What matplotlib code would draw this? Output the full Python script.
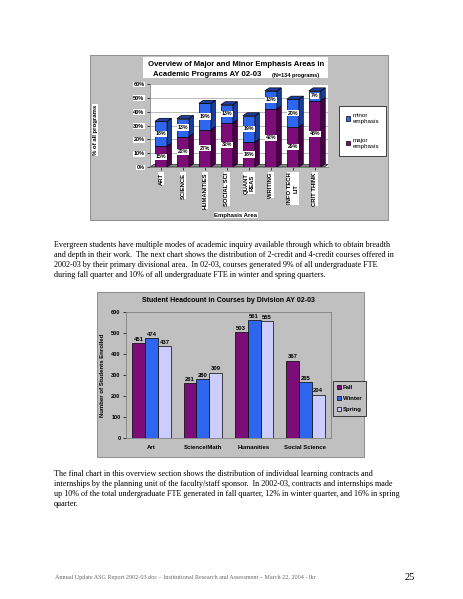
import matplotlib.pyplot as plt
import numpy as np
from matplotlib.patches import Polygon, Rectangle, Patch

# top chart data
areas = ["ART", "SCIENCE", "HUMANITIES", "SOCIAL SCI", "QUANT\nREAS",
         "WRITING", "INFO TECH\nLIT", "CRIT THINK"]
major = [15, 22, 27, 32, 18, 42, 29, 48]
minor = [18, 13, 19, 13, 19, 13, 20, 7]

# bottom chart data
divisions = ["Art", "Science/Math", "Humanities", "Social Science"]
fall = [451, 261, 503, 367]
winter = [474, 280, 561, 265]
spring = [437, 309, 555, 204]

para1 = [
    "Evergreen students have multiple modes of academic inquiry available through which to obtain breadth",
    "and depth in their work.  The next chart shows the distribution of 2-credit and 4-credit courses offered in",
    "2002-03 by their primary divisional area.  In 02-03, courses generated 9% of all undergraduate FTE",
    "during fall quarter and 10% of all undergraduate FTE in winter and spring quarters.",
]
para2 = [
    "The final chart in this overview section shows the distribution of individual learning contracts and",
    "internships by the planning unit of the faculty/staff sponsor.  In 2002-03, contracts and internships made",
    "up 10% of the total undergraduate FTE generated in fall quarter, 12% in winter quarter, and 16% in spring",
    "quarter.",
]
footer = "Annual Update ASG Report 2002-03.doc \u2013 Institutional Research and Assessment \u2013 March 22, 2004 - lkr"

W, H = 463, 599
PURPLE = "#7b0c78"
BLUE = "#2f66f0"
LAV = "#ccccff"
GRAY = "#c0c0c0"
SANS = "Liberation Sans"
SERIF = "Liberation Serif"


def fx(px):
    return px / W


def fy(px):
    return 1 - px / H


fig = plt.figure(figsize=(W / 100, H / 100), dpi=100)
fig.patch.set_facecolor("white")

# ---------------- top chart ----------------
fig.add_artist(Rectangle((fx(90), fy(220)), fx(388) - fx(90), fy(55) - fy(220),
                         transform=fig.transFigure, facecolor=GRAY,
                         edgecolor="#808080", lw=0.6, zorder=-1))
fig.add_artist(Rectangle((fx(143), fy(78)), fx(328) - fx(143), fy(57) - fy(78),
                         transform=fig.transFigure, facecolor="white",
                         edgecolor="none", zorder=-0.5))

ax1 = fig.add_axes([fx(150), fy(167), fx(328) - fx(150), fy(84) - fy(167)])
ax1.set_facecolor("white")
x = np.arange(len(areas))
w = 0.55
dx, dy = 0.2, 2.2
major = np.array(major)
minor = np.array(minor)
ax1.bar(x, major, w, color=PURPLE, edgecolor="black", lw=0.5, zorder=3)
ax1.bar(x, minor, w, bottom=major, color=BLUE, edgecolor="black", lw=0.5, zorder=3)
for xi, mj, mn in zip(x, major, minor):
    x0, x1 = xi - w / 2, xi + w / 2
    for b, t, c in [(0, mj, "#4a0048"), (mj, mj + mn, "#1a3d99")]:
        ax1.add_patch(Polygon([(x1, b), (x1 + dx, b + dy), (x1 + dx, t + dy), (x1, t)],
                              closed=True, facecolor=c, edgecolor="black", lw=0.5, zorder=3))
    top = mj + mn
    ax1.add_patch(Polygon([(x0, top), (x0 + dx, top + dy), (x1 + dx, top + dy), (x1, top)],
                          closed=True, facecolor="#1f3fa8", edgecolor="black", lw=0.5, zorder=3))
    for v, b in [(mj, 0), (mn, mj)]:
        ax1.text(xi, b + v / 2, f"{v}%", ha="center", va="center", fontsize=3.8,
                 fontweight="bold", family=SANS, zorder=5,
                 bbox=dict(facecolor="white", edgecolor="none", pad=0.4))
ax1.set_xlim(-0.5, 7.6)
ax1.set_ylim(0, 60)
ax1.set_yticks(np.arange(0, 61, 10))
ax1.set_yticklabels([f"{v}%" for v in range(0, 61, 10)], fontsize=4, family=SANS,
                    fontweight="bold")
ax1.yaxis.grid(True, color="#a0a0a0", lw=0.5, zorder=0)
ax1.set_axisbelow(True)
ax1.set_xticks(x)
ax1.set_xticklabels(areas, rotation=90, fontsize=4.2, family=SANS, fontweight="bold",
                    va="top", ha="center", multialignment="center")
for lab in ax1.get_xticklabels() + ax1.get_yticklabels():
    lab.set_bbox(dict(facecolor="white", edgecolor="none", pad=0.3))
ax1.tick_params(axis="both", length=2, width=0.5, pad=2)
for s in ["top", "right"]:
    ax1.spines[s].set_visible(False)
for s in ["left", "bottom"]:
    ax1.spines[s].set_color("#808080")
    ax1.spines[s].set_linewidth(0.6)
ax1.add_patch(Polygon([(0, 0), (0.02, 0.03), (1.0, 0.03), (0.98, 0)], closed=True,
                      transform=ax1.transAxes, facecolor="#8a8a8a", edgecolor="black",
                      lw=0.4, clip_on=False, zorder=1))

fig.text(fx(236), fy(65), "Overview of Major and Minor Emphasis Areas in", ha="center",
         va="center", fontsize=5.55, fontweight="bold", family=SANS)
fig.text(fx(207), fy(74.5), "Academic Programs AY 02-03", ha="center", va="center",
         fontsize=5.55, fontweight="bold", family=SANS)
fig.text(fx(296), fy(75), "(N=134 programs)", ha="center", va="center", fontsize=4.0,
         fontweight="bold", family=SANS)
fig.text(fx(95), fy(130), "% of all programs", rotation=90, ha="center", va="center",
         fontsize=4.3, fontweight="bold", family=SANS,
         bbox=dict(facecolor="white", edgecolor="none", pad=0.3))
fig.text(fx(236), fy(215), "Emphasis Area", ha="center", va="center", fontsize=4.3,
         fontweight="bold", family=SANS,
         bbox=dict(facecolor="white", edgecolor="none", pad=0.4))
fig.legend(handles=[Patch(facecolor=BLUE, edgecolor="black", lw=0.5, label="minor\nemphasis"),
                    Patch(facecolor=PURPLE, edgecolor="black", lw=0.5, label="major\nemphasis")],
           loc="center", bbox_to_anchor=(fx(362.5), fy(131)),
           prop=dict(family=SANS, size=4.5), frameon=True, fancybox=False,
           edgecolor="black", framealpha=1, handlelength=0.7, handleheight=0.7,
           handletextpad=0.3, labelspacing=2.2, borderpad=1.2).get_frame().set_linewidth(0.5)

# ---------------- text ----------------
for i, line in enumerate(para1):
    fig.text(fx(54), fy(245 + 10 * i), line, ha="left", va="center", fontsize=5.85,
             family=SERIF)
for i, line in enumerate(para2):
    fig.text(fx(54), fy(474 + 10 * i), line, ha="left", va="center", fontsize=5.85,
             family=SERIF)
fig.text(fx(55), fy(577), footer, ha="left", va="center", fontsize=4.4, family=SERIF,
         color="#666666")
fig.text(fx(410), fy(578), "25", ha="center", va="center", fontsize=7.5, family=SERIF)

# ---------------- bottom chart ----------------
fig.add_artist(Rectangle((fx(97), fy(457)), fx(364) - fx(97), fy(292) - fy(457),
                         transform=fig.transFigure, facecolor=GRAY,
                         edgecolor="#808080", lw=0.6, zorder=-1))
ax2 = fig.add_axes([fx(126), fy(438), fx(331) - fx(126), fy(312) - fy(438)])
ax2.set_facecolor(GRAY)
xb = np.arange(len(divisions))
bw = 0.25
for off, vals, col, lab in [(-bw, fall, PURPLE, "Fall"), (0, winter, BLUE, "Winter"),
                            (bw, spring, LAV, "Spring")]:
    bars = ax2.bar(xb + off, vals, bw, color=col, edgecolor="black", lw=0.5, label=lab,
                   zorder=3)
    for rect, v in zip(bars, vals):
        ax2.text(rect.get_x() + rect.get_width() / 2, v + 8, str(v), ha="center",
                 va="bottom", fontsize=4.2, fontweight="bold", family=SANS)
ax2.set_xlim(-0.5, 3.5)
ax2.set_ylim(0, 600)
ax2.set_yticks(np.arange(0, 601, 100))
ax2.set_yticklabels([str(v) for v in range(0, 601, 100)], fontsize=4, fontweight="bold",
                    family=SANS)
ax2.set_xticks(xb)
ax2.set_xticklabels(divisions, fontsize=4.3, fontweight="bold", family=SANS)
ax2.tick_params(axis="y", length=2, width=0.5, pad=2)
ax2.tick_params(axis="x", length=0, pad=5)
for s in ax2.spines.values():
    s.set_color("#808080")
    s.set_linewidth(0.6)
ax2.set_ylabel("Number of Students Enrolled", fontsize=4.3, fontweight="bold",
               family=SANS, labelpad=4)
ax2.set_title("Student Headcount in Courses by Division AY 02-03", fontsize=5.0,
              fontweight="bold", family=SANS, pad=7)
leg2 = fig.legend(*ax2.get_legend_handles_labels(), loc="center",
                  bbox_to_anchor=(fx(349.5), fy(398.5)),
                  prop=dict(family=SANS, size=4.3, weight="bold"),
                  frameon=True, fancybox=False, edgecolor="black", facecolor=GRAY,
                  framealpha=1, handlelength=0.7, handleheight=0.7, handletextpad=0.3,
                  labelspacing=1.0, borderpad=0.6)
leg2.get_frame().set_linewidth(0.5)

fig.savefig("out.png", dpi=100)
